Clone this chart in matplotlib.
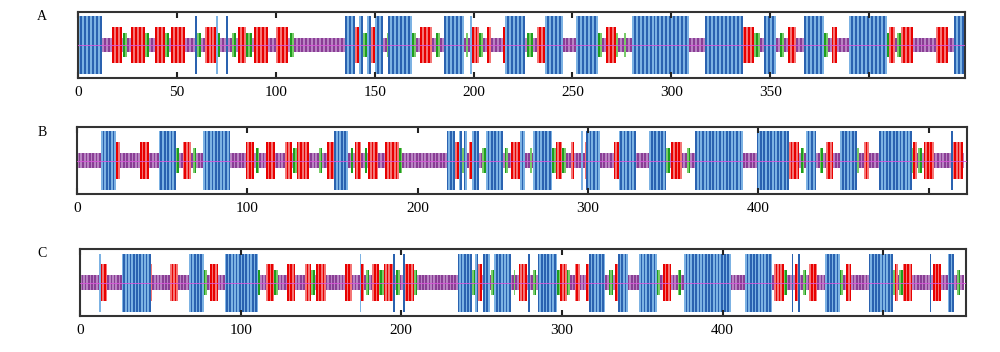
import matplotlib
matplotlib.use("Agg")
import matplotlib.pyplot as plt
import numpy as np

# secondary structure per residue, as runs "state+length"
# h = alpha helix, e = extended strand, t = beta turn, c = random coil
runs_a = ("h12 c5 e5 c1 t2 c2 e7 t2 c3 e5 t2 c1 e7 c5 h1 t2 c2 e6 h1 t1 c3 h1 c2 t2 c1 e4 t3 c1 e7 c4 e6 c1 t2 "
          "c26 h5 e2 h2 t2 h2 e2 h4 c2 t1 h12 t2 c2 e6 c2 t2 c2 h10 c1 t1 c1 h1 e4 t2 c2 e2 c6 e1 h10 c1 t3 c2 e4 "
          "h9 c7 h11 t2 c2 e5 t1 c3 t1 c3 h29 c8 h19 e6 t3 c2 h6 c2 t2 c2 e4 c4 h10 t2 c2 e3 c6 h19 t1 e3 c1 t2 "
          "e6 c12 e6 c3 h5")
runs_b = ("c14 h9 e2 c12 e5 c6 h10 t2 c2 e5 c1 t2 c4 h16 c9 e5 c1 t2 c4 e5 c6 e4 c1 t2 e7 c6 t2 c3 e4 h8 c2 t1 "
          "c1 e4 c2 t1 c1 e6 c4 e8 t2 c26 h5 e2 h2 t1 h2 c1 e2 h4 c2 t2 h10 c1 t2 c2 e5 h3 c3 t1 c1 h11 t2 e4 "
          "t2 c3 e2 c4 h1 c1 e1 h8 c8 e3 h10 c8 h10 t2 c1 e6 c3 t2 c3 h28 c8 h19 e6 c1 t2 c1 h6 c2 t2 c2 e4 c4 "
          "h10 t1 c3 e3 c6 h19 t1 e2 c1 t2 c1 e6 c10 h1 e6 c1")
runs_c = ("c12 h1 e4 c9 h18 e1 c11 e5 c7 h9 t2 c2 e5 c4 h21 t1 c4 e5 t2 c6 e5 c6 e4 t2 c1 e6 c12 e4 c5 h1 e2 "
          "c1 t2 c2 e4 t3 e6 h1 c1 t2 c2 h1 e6 t2 c25 h9 t2 h2 e2 c1 h4 c1 t2 h10 c2 t1 c2 e5 c1 h1 c2 t2 c1 "
          "h12 t2 e4 t2 c3 e3 c4 e2 h10 c2 t3 c1 e2 h6 c7 h11 t2 c2 e5 c4 t2 c2 h29 c9 h17 c1 e6 t2 c3 h1 c1 "
          "e2 h1 c2 t2 c2 e5 c5 h9 t2 c2 e3 c11 h15 t1 e2 c1 t2 e6 c11 h1 c1 e5 c4 h4 c2 t2 c2")

panel_names = ["A", "B", "C"]
panel_runs = [runs_a, runs_b, runs_c]
tick_steps = [50, 100, 100]
tick_max = [400, 500, 500]

# look
half_height = {"h": 0.87, "e": 0.55, "t": 0.37, "c": 0.22}
dark = {"h": "#2a62b0", "e": "#e80000", "t": "#1e9e1e", "c": "#8a3d95"}
light = {"h": "#7cb2e3", "e": "#f47676", "t": "#7acb6a", "c": "#b884c2"}
axes_rect = [[0.078, 0.778, 0.887, 0.188],
             [0.077, 0.449, 0.890, 0.190],
             [0.080, 0.102, 0.886, 0.190]]
xmax = [448.5, 522.5, 551.5]
label_y = [0.952, 0.625, 0.281]


def expand(runs):
    s = []
    for tok in runs.split():
        s += [tok[0]] * int(tok[1:])
    return s


fig = plt.figure(figsize=(10, 3.52), dpi=100)
serif = ["Liberation Serif", "DejaVu Serif"]

for k, (name, runs) in enumerate(zip(panel_names, panel_runs)):
    ax = fig.add_axes(axes_rect[k])
    ss = expand(runs)
    x = np.arange(len(ss))
    hh = np.array([half_height[s] for s in ss])
    cols = [dark[s] if i % 2 else light[s] for i, s in enumerate(ss)]
    ax.bar(x, 2 * hh, bottom=-hh, width=1.0, align="edge", color=cols, linewidth=0)
    ax.axhline(0, color="#d855d8", lw=0.6, zorder=3)
    ax.set_xlim(0, xmax[k])
    ax.set_ylim(-1, 1)
    ticks = list(range(0, tick_max[k] + 1, tick_steps[k]))
    ax.set_xticks(ticks)
    ax.set_xticklabels([str(t) for t in ticks[:-1]] + [""], family=serif, fontsize=11)
    ax.set_yticks([])
    ax.tick_params(axis="x", direction="in", top=True, bottom=True, length=4, width=1.5,
                   color="#222222", pad=6)
    for sp in ax.spines.values():
        sp.set_linewidth(1.5)
        sp.set_color("#333333")
    fig.text(0.042, label_y[k], name, family=serif, fontsize=10, va="center", ha="center")

fig.savefig("out.png", dpi=100)
